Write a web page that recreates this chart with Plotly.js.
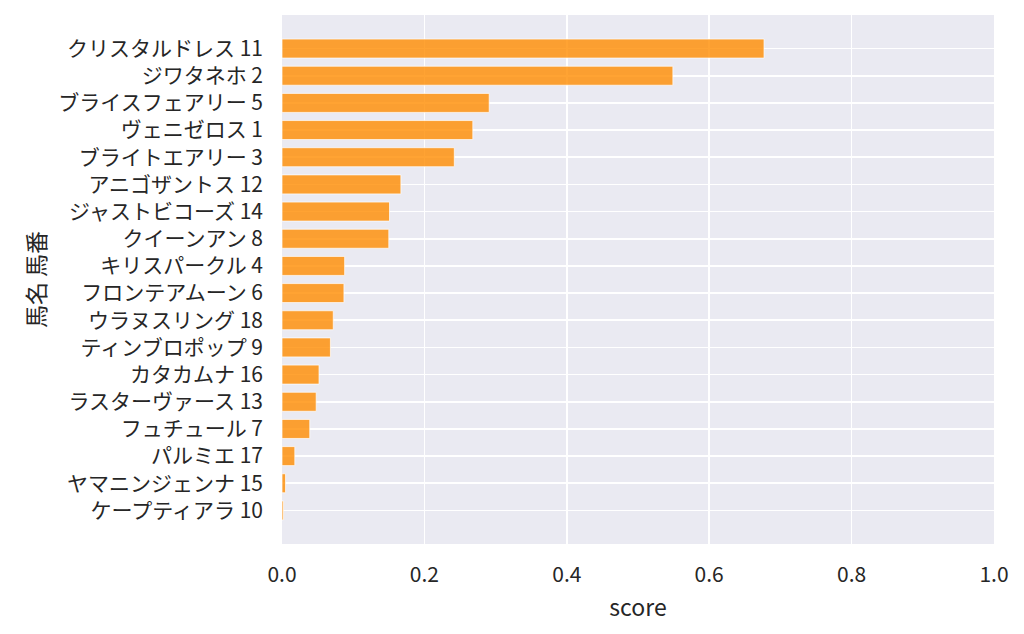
<!DOCTYPE html>
<html>
<head>
<meta charset="utf-8">
<script src="https://cdn.plot.ly/plotly-3.0.1.min.js"></script>
<style>
  html, body { margin: 0; padding: 0; background: #fff; }
  #chart { width: 1024px; height: 634px; }
</style>
</head>
<body>
<div id="chart"></div>
<script>
// horse name + number, top to bottom
var horses = [
  'クリスタルドレス 11', 'ジワタネホ 2', 'ブライスフェアリー 5', 'ヴェニゼロス 1',
  'ブライトエアリー 3', 'アニゴザントス 12', 'ジャストビコーズ 14', 'クイーンアン 8',
  'キリスパークル 4', 'フロンテアムーン 6', 'ウラヌスリング 18', 'ティンブロポップ 9',
  'カタカムナ 16', 'ラスターヴァース 13', 'フュチュール 7', 'パルミエ 17',
  'ヤマニンジェンナ 15', 'ケープティアラ 10'
];
var scores = [
  0.677, 0.549, 0.291, 0.268, 0.242, 0.167, 0.151, 0.150, 0.088,
  0.087, 0.072, 0.068, 0.052, 0.048, 0.039, 0.018, 0.005, 0.002
];
var xTicks = [0, 0.2, 0.4, 0.6, 0.8, 1.0];
var xTickText = ['0.0', '0.2', '0.4', '0.6', '0.8', '1.0'];

var font = '"Noto Sans CJK JP", "Noto Sans", sans-serif';

var trace = {
  type: 'bar',
  orientation: 'h',
  x: scores,
  y: horses,
  width: 0.7,
  marker: {
    color: 'rgba(255,140,0,0.8)',
    line: { color: 'rgba(255,255,255,0.7)', width: 1 }
  },
  hoverinfo: 'x+y'
};

var layout = {
  width: 1024,
  height: 634,
  margin: { l: 282, r: 30, t: 15, b: 90 },
  paper_bgcolor: '#ffffff',
  plot_bgcolor: '#EAEAF2',
  font: { family: font, size: 21, color: '#262626' },
  showlegend: false,
  xaxis: {
    range: [0, 1],
    tickvals: xTicks,
    ticktext: xTickText,
    showgrid: true,
    gridcolor: '#ffffff',
    gridwidth: 1.6,
    zeroline: false,
    showline: false,
    ticks: '',
    ticklabelstandoff: 16,
    title: { text: 'score', font: { family: font, size: 23, color: '#262626' }, standoff: 12 },
    automargin: false
  },
  yaxis: {
    type: 'category',
    categoryorder: 'array',
    categoryarray: horses,
    range: [18.235, -1.235],
    showgrid: true,
    gridcolor: '#ffffff',
    gridwidth: 1.6,
    zeroline: false,
    showline: false,
    ticks: '',
    ticklabelstandoff: 18,
    title: { text: '馬名 馬番', font: { family: font, size: 23, color: '#262626' }, standoff: 6 },
    automargin: false
  }
};

Plotly.newPlot('chart', [trace], layout, { displayModeBar: false, staticPlot: true });
</script>
</body>
</html>
